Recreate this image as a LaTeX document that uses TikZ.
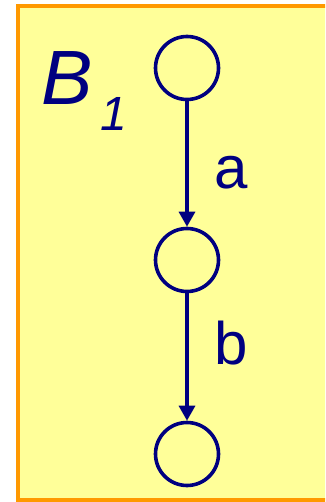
\documentclass[tikz,border=0pt]{standalone}
\usepackage{fontspec}
\setmainfont{Liberation Sans}
\usetikzlibrary{arrows.meta}
\definecolor{boxfill}{HTML}{FFFF99}
\definecolor{boxedge}{HTML}{FF9900}
\definecolor{navy}{HTML}{000080}
\begin{document}
\begin{tikzpicture}[x=1pt,y=-1pt,
  state/.style={circle,draw=navy,line width=3.6pt,minimum size=63pt,inner sep=0pt},
  trans/.style={draw=navy,line width=3.2pt,-{Triangle[length=15pt,width=16pt]}},
  lbl/.style={text=navy,inner sep=0pt,font=\fontsize{60}{60}\selectfont}]
\clip (0,0) rectangle (325,502);
\useasboundingbox (0,0) rectangle (325,502);
\draw[fill=boxfill,draw=boxedge,line width=4pt] (18,6) rectangle (340,500);
\node[text=navy,inner sep=0pt,anchor=base west,font=\fontsize{77}{77}\selectfont\itshape] (B) at (41,105) {B};
\node[text=navy,inner sep=0pt,anchor=base west,font=\fontsize{48}{48}\selectfont\itshape] (sub) at (100,131) {1};
\node[state] (s1) at (187,68) {};
\node[state] (s2) at (187,260) {};
\node[state] (s3) at (187,454) {};
\draw[trans] (s1) -- (s2);
\draw[trans] (s2) -- (s3);
\node[lbl,anchor=base west] (la) at (214,189) {a};
\node[lbl,anchor=base west] (lb) at (214,364) {b};
\end{tikzpicture}
\end{document}
